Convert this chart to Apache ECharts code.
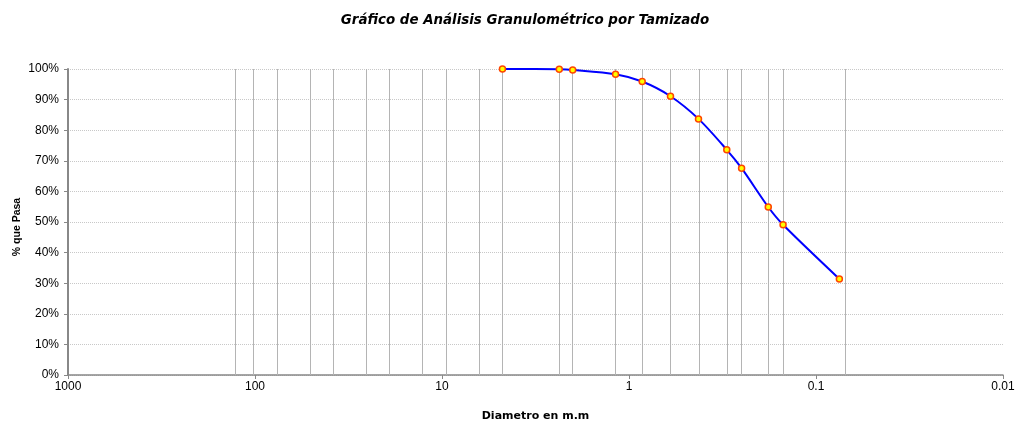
<!DOCTYPE html>
<html>
<head>
<meta charset="utf-8">
<script src="https://cdn.jsdelivr.net/npm/echarts@6/dist/echarts.min.js"></script>
<style>
html,body{margin:0;padding:0;background:#fff;}
#chart{width:1016px;height:422px;}
</style>
</head>
<body>
<div id="chart"></div>
<script>
// Sieve openings (mm) and percent passing
const diameters = [4.75, 2.36, 2.00, 1.18, 0.85, 0.60, 0.425, 0.30, 0.25, 0.18, 0.15, 0.075];
const percentPassing = [100, 99.9, 99.7, 98.3, 95.9, 91.1, 83.7, 73.6, 67.6, 54.9, 49.1, 31.4];
// Vertical reference lines at standard sieve sizes (mm)
const sieveSizes = [127, 101.6, 76.2, 50.8, 38.1, 25.4, 19.05, 12.7, 9.525, 6.35, 4.75, 2.36, 2.00, 1.18, 0.85, 0.60, 0.425, 0.30, 0.25, 0.18, 0.15, 0.075];
const xTickLabels = ['1000', '100', '10', '1', '0.1', '0.01'];
const yTickLabels = ['0%','10%','20%','30%','40%','50%','60%','70%','80%','90%','100%'];

const chart = echarts.init(document.getElementById('chart'));
const labelFont = { fontFamily: 'Liberation Sans, Arial, sans-serif', fontSize: 12, color: '#000' };

chart.setOption({
  animation: false,
  backgroundColor: '#fff',
  title: {
    text: 'Gráfico de Análisis Granulométrico por Tamizado',
    left: 520, top: 9, textAlign: 'center',
    textStyle: { fontFamily: 'DejaVu Sans, Liberation Sans, sans-serif', fontSize: 13.4, fontWeight: 'bold', fontStyle: 'italic', color: '#000' }
  },
  grid: { left: 68, right: 13, top: 69, bottom: 47, outerBoundsMode: 'none', containLabel: false },
  xAxis: {
    type: 'log', logBase: 10, min: 0.01, max: 1000, inverse: true,
    name: 'Diametro en m.m', nameLocation: 'middle', nameGap: 36, nameMoveOverlap: false,
    nameTextStyle: { fontFamily: 'DejaVu Sans, Liberation Sans, sans-serif', fontSize: 11, fontWeight: 'bold', color: '#000' },
    axisLine: { show: true, lineStyle: { color: '#888', width: 1.5 } },
    axisTick: { show: true, length: 4, lineStyle: { color: '#888' } },
    splitLine: { show: false },
    minorTick: { show: false },
    axisLabel: Object.assign({ margin: 6, formatter: function (v) {
      const idx = Math.round(3 - Math.log10(v));
      return xTickLabels[idx] !== undefined ? xTickLabels[idx] : '';
    } }, labelFont)
  },
  yAxis: {
    type: 'value', min: 0, max: 100, interval: 10,
    name: '% que Pasa', nameLocation: 'middle', nameGap: 45, nameRotate: 90, nameMoveOverlap: false,
    nameTextStyle: { fontFamily: 'Liberation Sans, Arial, sans-serif', fontSize: 10.5, fontWeight: 'bold', color: '#000', padding: [0, 10, 0, 0] },
    axisLine: { show: true, lineStyle: { color: '#888', width: 2 } },
    axisTick: { show: true, length: 4, lineStyle: { color: '#888' } },
    splitLine: { show: true, lineStyle: { color: '#c8c8c8', type: 'dotted', width: 1 } },
    axisLabel: Object.assign({ margin: 9, formatter: function (v) {
      return yTickLabels[Math.round(v / 10)];
    } }, labelFont)
  },
  series: [
    {
      type: 'line', data: [], silent: true,
      markLine: {
        silent: true, symbol: 'none', animation: false,
        label: { show: false },
        lineStyle: { color: '#b4b4b4', type: 'solid', width: 1 },
        data: sieveSizes.map(function (s) { return { xAxis: s }; })
      }
    },
    {
      type: 'line',
      data: diameters.map(function (d, i) { return [d, percentPassing[i]]; }),
      smooth: 0.3,
      lineStyle: { color: '#0000ff', width: 2 },
      symbol: 'circle', symbolSize: 6,
      itemStyle: { color: '#ffff00', borderColor: '#ff4500', borderWidth: 1.5 },
      z: 5
    }
  ]
});
</script>
</body>
</html>
